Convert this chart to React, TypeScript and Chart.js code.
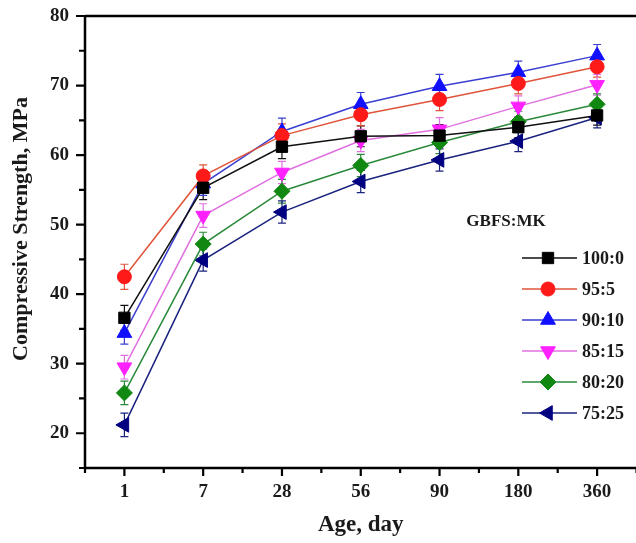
import React, { useEffect, useRef } from "react";
import { Chart, registerables } from "chart.js";

Chart.register(...registerables);

const ages = ["1", "7", "28", "56", "90", "180", "360"];
const seriesNames = ["100:0", "95:5", "90:10", "85:15", "80:20", "75:25"];
const s100_0 = [36.6, 55.3, 61.2, 62.7, 62.8, 64.0, 65.7];
const s95_5 = [42.5, 57.0, 62.8, 65.8, 68.0, 70.3, 72.7];
const s90_10 = [34.4, 55.9, 63.4, 67.3, 69.9, 71.9, 74.3];
const s85_15 = [29.5, 51.3, 57.5, 62.1, 63.7, 67.0, 70.1];
const s80_20 = [25.8, 47.2, 54.8, 58.5, 61.8, 64.8, 67.3];
const s75_25 = [21.2, 44.9, 51.8, 56.2, 59.3, 62.0, 65.4];
const e100_0 = [1.8, 1.7, 1.7, 1.5, 1.6, 1.5, 1.4];
const e95_5 = [1.8, 1.6, 1.7, 1.6, 1.6, 1.5, 1.5];
const e90_10 = [1.6, 1.7, 1.9, 1.7, 1.7, 1.6, 1.6];
const e85_15 = [1.7, 1.7, 1.6, 1.6, 1.7, 1.5, 1.5];
const e80_20 = [1.7, 1.7, 1.7, 1.6, 1.6, 1.5, 1.5];
const e75_25 = [1.7, 1.6, 1.6, 1.6, 1.6, 1.5, 1.5];
const yTickValues = [20, 30, 40, 50, 60, 70, 80];
const yTitle = "Compressive Strength, MPa";
const xTitle = "Age, day";
const legendTitle = "GBFS:MK";

const FONT = "'Liberation Serif', 'Times New Roman', serif";

const styles = [
  { line: "#111111", marker: "#000000", shape: "rect", rot: 0, r: 8 },
  { line: "#e0553a", marker: "#ff1a1a", shape: "circle", rot: 0, r: 7 },
  { line: "#3a3fd0", marker: "#1010ff", shape: "triangle", rot: 0, r: 8.5 },
  { line: "#e070e0", marker: "#ff22ff", shape: "triangle", rot: 180, r: 8.5 },
  { line: "#2a8a3a", marker: "#118811", shape: "rectRot", rot: 0, r: 8 },
  { line: "#1a237e", marker: "#000080", shape: "triangle", rot: 270, r: 8.5 },
];

const values = [s100_0, s95_5, s90_10, s85_15, s80_20, s75_25];
const errors = [e100_0, e95_5, e90_10, e85_15, e80_20, e75_25];

function drawMarker(ctx: CanvasRenderingContext2D, st: any, x: number, y: number) {
  const r = st.r;
  ctx.save();
  ctx.fillStyle = st.marker;
  ctx.strokeStyle = st.marker;
  ctx.lineWidth = 1;
  ctx.beginPath();
  if (st.shape === "circle") {
    ctx.arc(x, y, r, 0, Math.PI * 2);
  } else if (st.shape === "rect") {
    const s = Math.SQRT1_2 * r;
    ctx.rect(x - s, y - s, 2 * s, 2 * s);
  } else if (st.shape === "rectRot") {
    ctx.moveTo(x, y - r);
    ctx.lineTo(x + r, y);
    ctx.lineTo(x, y + r);
    ctx.lineTo(x - r, y);
    ctx.closePath();
  } else {
    const base = (st.rot * Math.PI) / 180;
    for (let k = 0; k < 3; k++) {
      const a = base + (k * 2 * Math.PI) / 3;
      const px = x + Math.sin(a) * r;
      const py = y - Math.cos(a) * r;
      if (k === 0) ctx.moveTo(px, py);
      else ctx.lineTo(px, py);
    }
    ctx.closePath();
  }
  ctx.fill();
  ctx.stroke();
  ctx.restore();
}

const axesPlugin = {
  id: "axesPlugin",
  beforeDatasetsDraw(chart: any) {
    const { ctx } = chart;
    const yScale = chart.scales.y;
    ctx.save();
    chart.data.datasets.forEach((ds: any, di: number) => {
      const meta = chart.getDatasetMeta(di);
      const errs = errors[di];
      ctx.strokeStyle = styles[di].line;
      ctx.lineWidth = 1.2;
      meta.data.forEach((pt: any, i: number) => {
        const v = ds.data[i];
        const top = yScale.getPixelForValue(v + errs[i]);
        const bot = yScale.getPixelForValue(v - errs[i]);
        ctx.beginPath();
        ctx.moveTo(pt.x, top);
        ctx.lineTo(pt.x, bot);
        ctx.moveTo(pt.x - 4, top);
        ctx.lineTo(pt.x + 4, top);
        ctx.moveTo(pt.x - 4, bot);
        ctx.lineTo(pt.x + 4, bot);
        ctx.stroke();
      });
    });
    ctx.restore();
  },
  afterDraw(chart: any) {
    const { ctx, chartArea } = chart;
    const { left, right, top, bottom } = chartArea;
    const yScale = chart.scales.y;
    const xScale = chart.scales.x;
    ctx.save();
    ctx.strokeStyle = "#000";
    ctx.lineWidth = 2.5;
    ctx.beginPath();
    ctx.moveTo(left, top);
    ctx.lineTo(right + 12, top);
    ctx.moveTo(left, top - 1);
    ctx.lineTo(left, bottom + 1);
    ctx.moveTo(left - 1, bottom);
    ctx.lineTo(right + 12, bottom);
    ctx.stroke();
    ctx.lineWidth = 2.2;
    ctx.beginPath();
    for (let v = 15; v <= 80; v += 5) {
      const y = yScale.getPixelForValue(v);
      const len = v % 10 === 0 ? 9 : 6;
      ctx.moveTo(left, y);
      ctx.lineTo(left - len, y);
    }
    const x0 = xScale.getPixelForValue(0);
    const step = xScale.getPixelForValue(1) - x0;
    for (let i = 0; i < ages.length; i++) {
      const x = x0 + step * i;
      ctx.moveTo(x, bottom);
      ctx.lineTo(x, bottom + 8);
    }
    for (let i = 0; i <= ages.length; i++) {
      const x = x0 + step * (i - 0.5);
      ctx.moveTo(x, bottom);
      ctx.lineTo(x, bottom + 5);
    }
    ctx.stroke();

    // y axis title
    ctx.save();
    ctx.translate(21, 229);
    ctx.rotate(-Math.PI / 2);
    ctx.fillStyle = "#1a1a1a";
    ctx.font = `bold 22px ${FONT}`;
    ctx.textAlign = "center";
    ctx.textBaseline = "middle";
    ctx.fillText(yTitle, 0, 0);
    ctx.restore();

    // legend
    ctx.fillStyle = "#1a1a1a";
    ctx.font = `bold 17px ${FONT}`;
    ctx.textAlign = "center";
    ctx.textBaseline = "middle";
    ctx.fillText(legendTitle, 506, 222);
    const rowY = [258, 289, 320, 351, 382, 413];
    seriesNames.forEach((name, i) => {
      const y = rowY[i];
      const st = styles[i];
      ctx.strokeStyle = st.line;
      ctx.lineWidth = 1.5;
      ctx.beginPath();
      ctx.moveTo(522, y);
      ctx.lineTo(577, y);
      ctx.stroke();
      drawMarker(ctx, st, 548, y);
      ctx.fillStyle = "#1a1a1a";
      ctx.font = `bold 18px ${FONT}`;
      ctx.textAlign = "left";
      ctx.textBaseline = "middle";
      ctx.fillText(name, 582, y + 1);
    });
    ctx.restore();
  },
};

export default function App() {
  const ref = useRef<HTMLCanvasElement | null>(null);
  useEffect(() => {
    if (!ref.current) return;
    const chart = new Chart(ref.current, {
      type: "line",
      data: {
        labels: ages,
        datasets: values.map((vals, i) => ({
          label: seriesNames[i],
          data: vals,
          borderColor: styles[i].line,
          backgroundColor: styles[i].marker,
          pointBackgroundColor: styles[i].marker,
          pointBorderColor: styles[i].marker,
          pointBorderWidth: 1,
          pointStyle: styles[i].shape as any,
          pointRotation: styles[i].rot,
          pointRadius: styles[i].r,
          borderWidth: 1.5,
          tension: 0,
          fill: false,
        })),
      },
      options: {
        animation: false,
        responsive: false,
        maintainAspectRatio: false,
        layout: { padding: { top: 16, left: 0, right: 0, bottom: 0 } },
        plugins: {
          legend: { display: false },
          tooltip: { enabled: false },
        },
        scales: {
          x: {
            type: "category",
            offset: true,
            grid: { display: false, drawTicks: false },
            border: { display: false },
            ticks: {
              padding: 13,
              color: "#1a1a1a",
              font: { family: FONT, size: 19, weight: "bold" },
              maxRotation: 0,
              autoSkip: false,
            },
            title: {
              display: true,
              text: xTitle,
              color: "#1a1a1a",
              font: { family: FONT, size: 23, weight: "bold" },
              padding: { top: 0, bottom: 4 },
            },
            afterFit: (s: any) => {
              s.height = 75;
              s.paddingLeft = 0;
              s.paddingRight = 0;
            },
          },
          y: {
            min: 15,
            max: 80,
            grid: { display: false, drawTicks: false },
            border: { display: false },
            afterBuildTicks: (s: any) => {
              s.ticks = yTickValues.map((v) => ({ value: v }));
            },
            ticks: {
              padding: 16,
              color: "#1a1a1a",
              font: { family: FONT, size: 19, weight: "bold" },
            },
            afterFit: (s: any) => {
              s.width = 85;
              s.paddingTop = 0;
              s.paddingBottom = 0;
            },
          },
        },
      },
      plugins: [axesPlugin],
    });
    return () => chart.destroy();
  }, []);
  return (
    <div
      style={{
        position: "fixed",
        left: 0,
        top: 0,
        width: 636,
        height: 543,
        overflow: "hidden",
        background: "#fff",
      }}
    >
      <canvas ref={ref} width={646} height={543} style={{ width: 646, height: 543, display: "block" }} />
    </div>
  );
}
